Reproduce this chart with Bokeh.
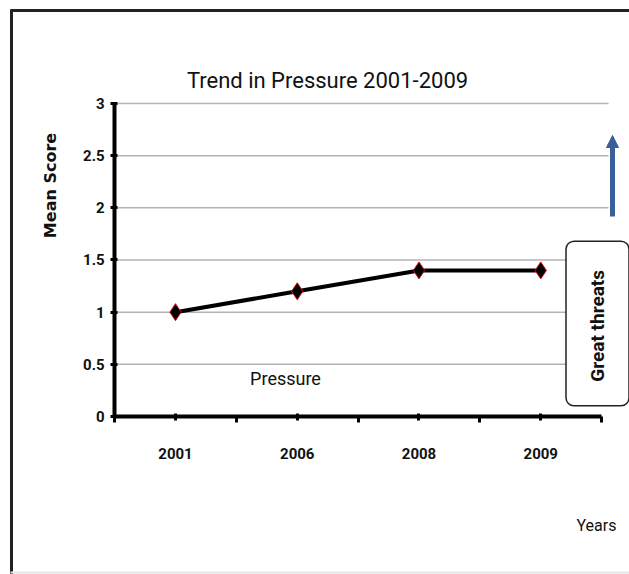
from bokeh.plotting import figure
from bokeh.models import FixedTicker, Label, Arrow, NormalHead, LinearAxis
from bokeh.embed import file_html
from bokeh.resources import INLINE
from math import pi

# Data
years = ["2001", "2006", "2008", "2009"]
pressure = [1.0, 1.2, 1.4, 1.4]
y_ticks = [0, 0.5, 1, 1.5, 2, 2.5, 3]
y_tick_labels = ["0", "0.5", "1", "1.5", "2", "2.5", "3"]

W, H = 629, 574
FONT = "Roboto"

x_pos = list(range(1, len(years) + 1))
x_bounds = (0.5, len(years) + 0.5)

# The frame fills the whole canvas; axes are pinned inside it
p = figure(width=W, height=H, output_backend="svg", toolbar_location=None,
           x_range=(-0.4374, 4.729), y_range=(-1.5144, 3.987),
           x_axis_location=None, y_axis_location=None,
           min_border=0)
p.outline_line_color = None
p.background_fill_color = "white"
p.border_fill_color = "white"
p.grid.visible = False

# Horizontal gridlines, limited to the plotting area
grid_y = y_ticks[1:]
p.segment(x0=[x_bounds[0]] * len(grid_y), x1=[x_bounds[1] + 0.057] * len(grid_y),
          y0=grid_y, y1=grid_y, line_color="#b4b4b4", line_width=1.5)

xaxis = LinearAxis(fixed_location=0, bounds=x_bounds,
                   ticker=FixedTicker(ticks=x_pos,
                                      minor_ticks=[x_bounds[0] + i for i in range(len(years) + 1)]),
                   major_label_overrides={x: y for x, y in zip(x_pos, years)})
yaxis = LinearAxis(fixed_location=x_bounds[0], bounds=(0, 3),
                   ticker=FixedTicker(ticks=y_ticks),
                   major_label_overrides={t: s for t, s in zip(y_ticks, y_tick_labels)})

for ax in (xaxis, yaxis):
    ax.axis_line_color = "black"
    ax.axis_line_width = 4
    ax.major_tick_line_color = "black"
    ax.major_tick_line_width = 3
    ax.minor_tick_line_color = "black"
    ax.minor_tick_line_width = 3
    ax.major_label_text_font = FONT
    ax.major_label_text_font_style = "bold"
    ax.major_label_text_font_size = "15px"
    ax.major_label_text_color = "#111111"

xaxis.major_tick_out = 4
xaxis.major_tick_in = 3
xaxis.minor_tick_out = 6
xaxis.minor_tick_in = 0
xaxis.major_label_standoff = 26

yaxis.major_tick_out = 4
yaxis.major_tick_in = 3
yaxis.minor_tick_line_color = None
yaxis.major_label_standoff = 6

p.add_layout(xaxis, "below")
p.add_layout(yaxis, "left")

# Series
p.line(x_pos, pressure, line_color="black", line_width=4)
p.scatter(x_pos, pressure, marker="diamond", size=17,
          fill_color="black", line_color="#cc1111", line_width=1)

# Screen positions measured from the top-left of the canvas
def fx(x_left):
    return x_left

def fy(y_top):
    return H - y_top

def label(x, y, text, size, bold=False, font=FONT, angle=0, **kw):
    p.add_layout(Label(x=fx(x), y=fy(y), x_units="screen", y_units="screen",
                       text=text, text_font=font, text_font_size=size,
                       text_font_style="bold" if bold else "normal",
                       text_color="#111111", angle=angle,
                       text_align="center", text_baseline="middle", **kw))

label(327, 80, "Trend in Pressure 2001-2009", "22px")
label(50, 185, "Mean Score", "16px", bold=True, font="DejaVu Sans", angle=pi / 2)
label(285, 378, "Pressure", "18px")
label(596, 525, "Years", "16px")
label(597, 323, "Great  threats", "19px", bold=True, angle=pi / 2,
      border_line_color="#222222", border_line_width=1.5,
      background_fill_color="white", padding=(24, 20), border_radius=8)

# Upward arrow
p.add_layout(Arrow(x_start=fx(612), y_start=fy(216), x_end=fx(612), y_end=fy(135),
                   start_units="screen", end_units="screen",
                   line_color="#3a5f98", line_width=5,
                   end=NormalHead(size=12, fill_color="#3a5f98", line_color="#3a5f98")))

# Edges of the figure box
p.add_layout(Arrow(x_start=fx(11), y_start=fy(9), x_end=fx(11), y_end=fy(574),
                   start_units="screen", end_units="screen",
                   line_color="#222222", line_width=3, end=None))
p.add_layout(Arrow(x_start=fx(10), y_start=fy(10), x_end=fx(629), y_end=fy(10),
                   start_units="screen", end_units="screen",
                   line_color="#222222", line_width=3, end=None))
p.add_layout(Arrow(x_start=fx(10), y_start=fy(572), x_end=fx(629), y_end=fy(572),
                   start_units="screen", end_units="screen",
                   line_color="#e6e6e6", line_width=2, end=None))

open("out.html", "w").write(file_html(p, INLINE))
